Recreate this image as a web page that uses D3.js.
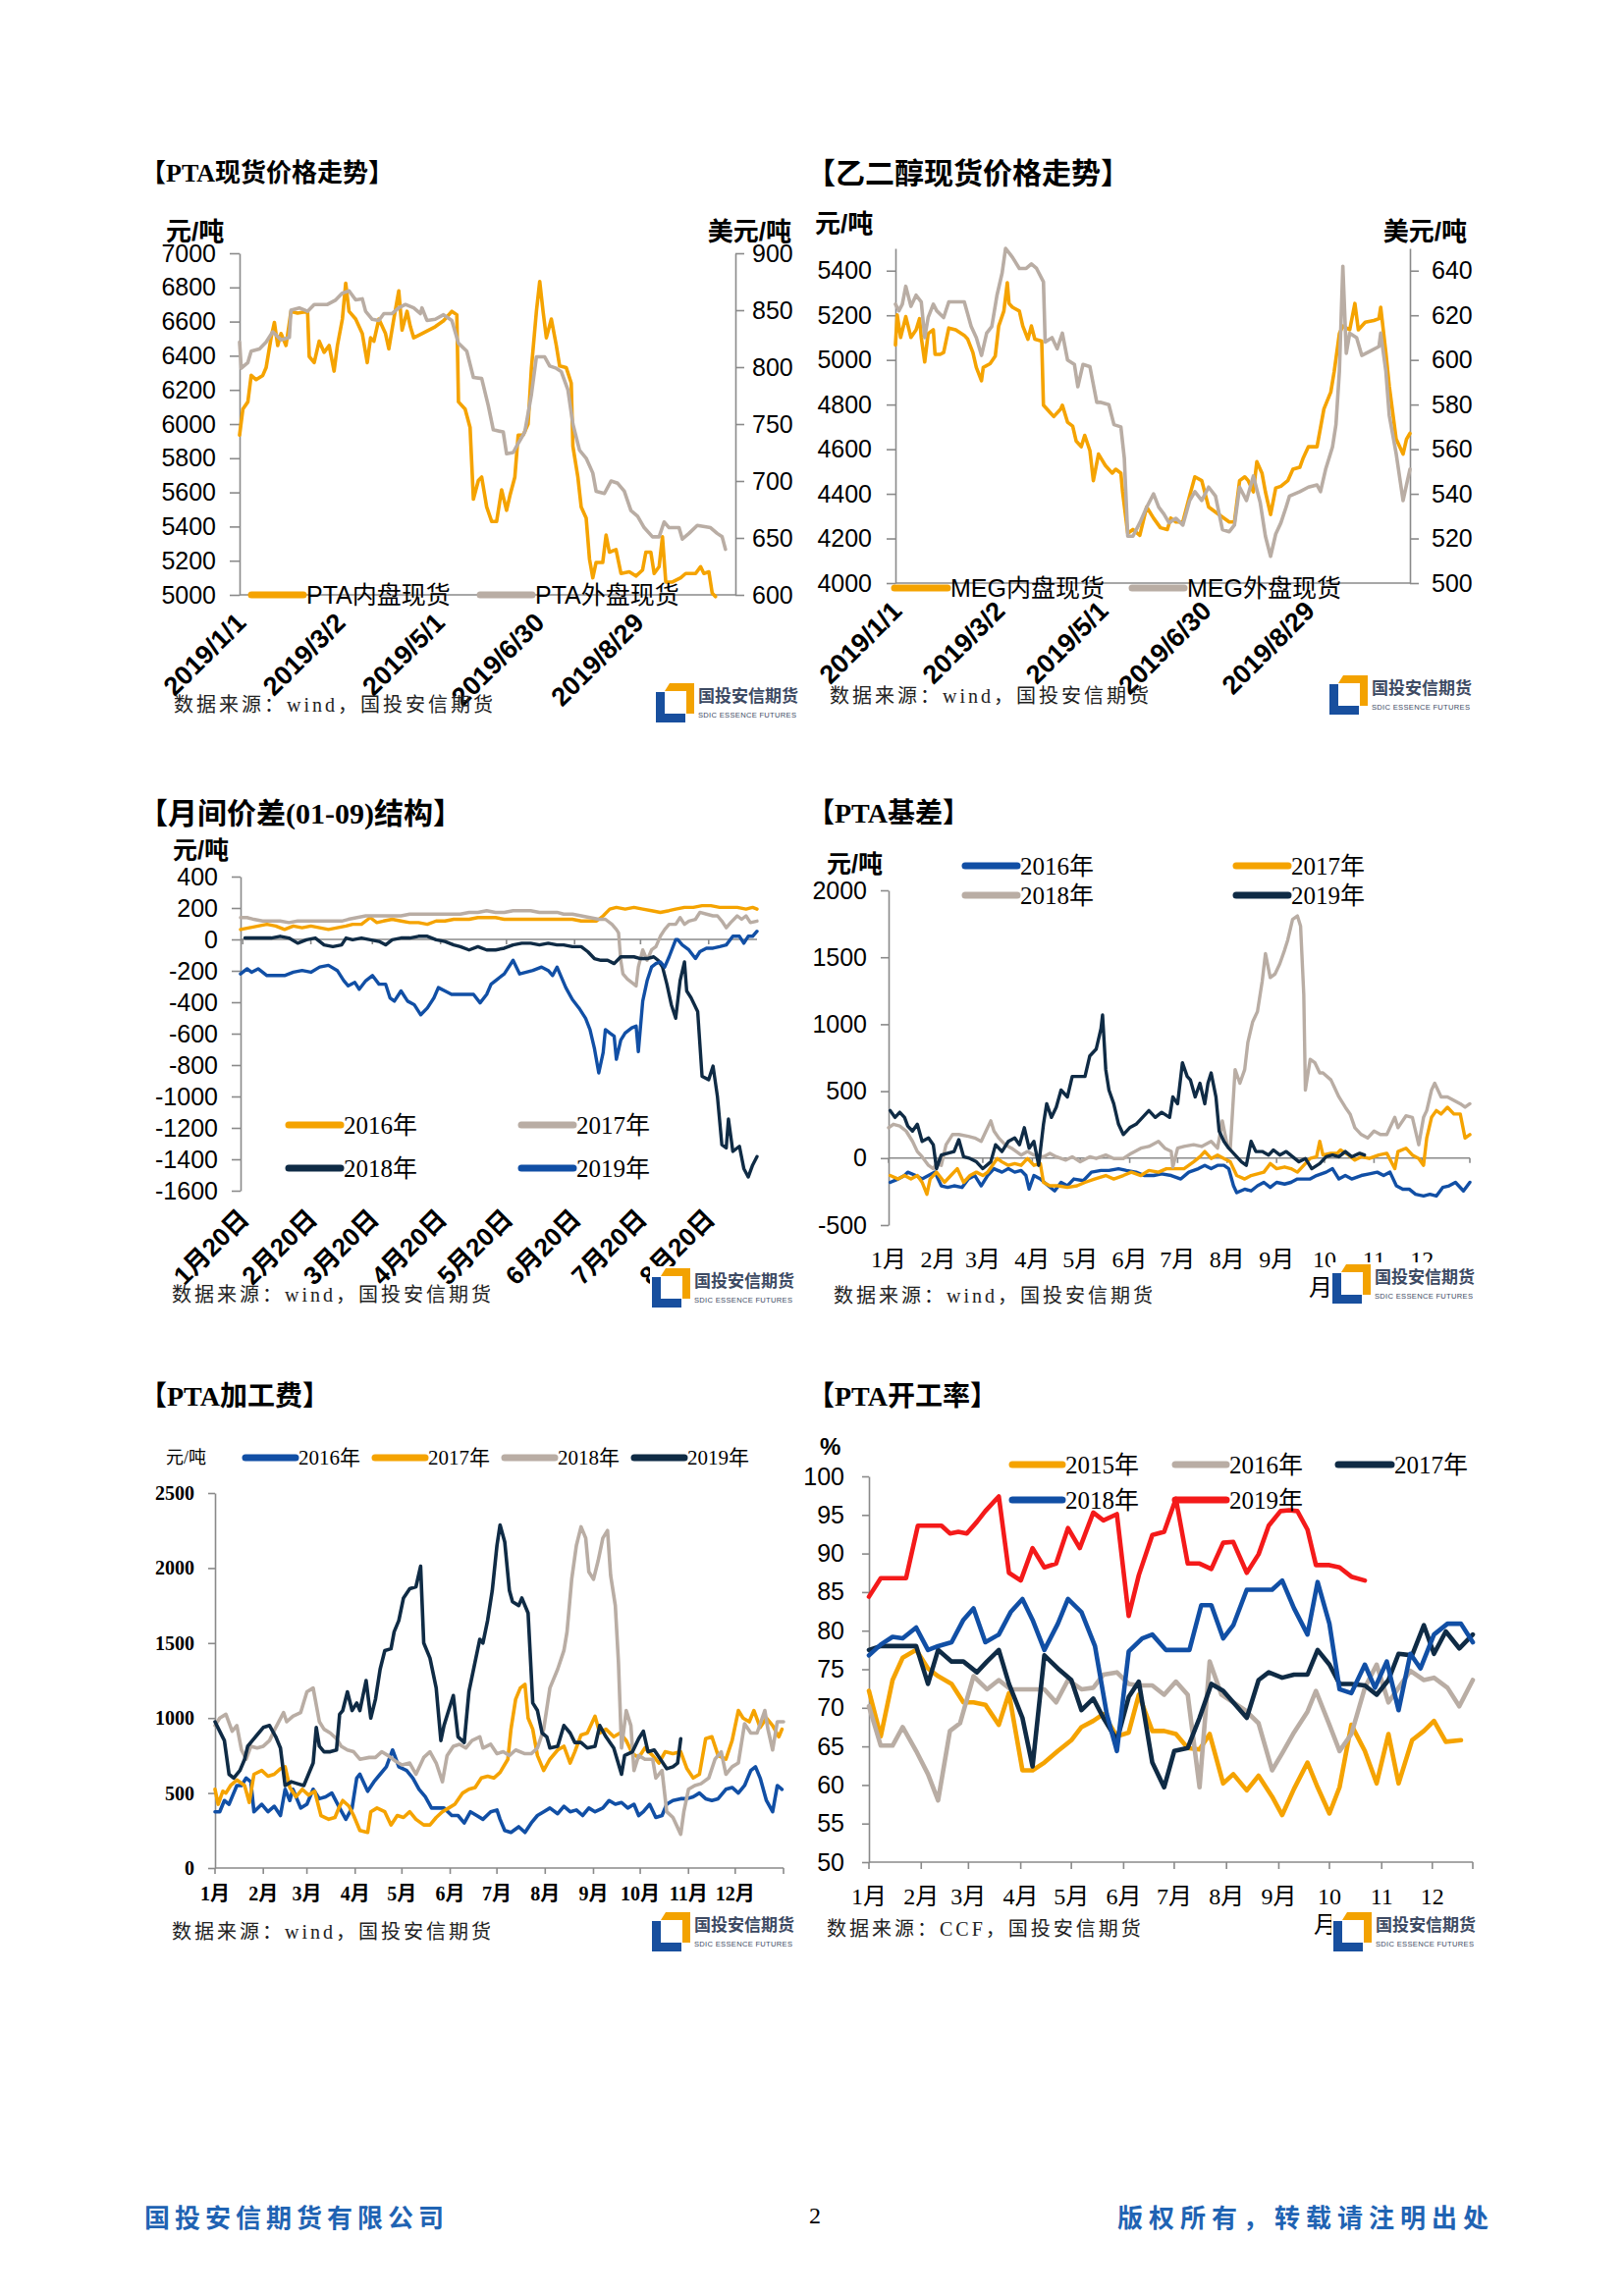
<!DOCTYPE html>
<html>
<head>
<meta charset="utf-8">
<script src="https://cdn.jsdelivr.net/npm/d3@7"></script>
<style>
  body { margin: 0; background: #fff; }
</style>
</head>
<body>
<script>
// colours and fonts
const ORANGE = "#f5a300", GRAY = "#b9ada4", NAVY = "#0f2b45", BLUE = "#114fa5", RED = "#f41a1a";
const AXIS = "#8a8a8a";
const SANS = "'Liberation Sans', 'Noto Sans CJK SC', sans-serif";
const SERIF = "'Liberation Serif', 'Noto Sans CJK SC', serif";
const CJK = "'Noto Sans CJK SC', sans-serif";

// ---------------- data ----------------
// day = days since 2019-01-01 (x), value (y)

// PTA spot: domestic (yuan/t, left axis) and import (USD/t, right axis)
const ptaDateLabels = ["2019/1/1", "2019/3/2", "2019/5/1", "2019/6/30", "2019/8/29"];
const ptaDomestic = [[0,5935],[2,6088],[5,6130],[7,6285],[10,6260],[14,6285],[16,6330],[19,6505],[21,6595],[23,6460],[25,6530],[28,6460],[31,6660],[35,6650],[41,6660],[42,6395],[45,6360],[48,6485],[51,6420],[54,6460],[57,6310],[59,6460],[62,6615],[64,6825],[66,6660],[70,6615],[74,6530],[77,6360],[79,6505],[81,6485],[84,6615],[88,6530],[90,6440],[93,6615],[96,6780],[98,6550],[101,6660],[103,6570],[105,6505],[110,6530],[118,6570],[123,6605],[128,6660],[131,6640],[132,6130],[136,6088],[139,5980],[141,5560],[144,5670],[146,5690],[149,5515],[152,5430],[155,5430],[158,5615],[161,5495],[163,5580],[166,5690],[168,5935],[171,5935],[174,6000],[176,6330],[179,6660],[181,6835],[183,6660],[185,6505],[188,6615],[191,6460],[193,6340],[197,6330],[200,6240],[201,5870],[204,5690],[206,5515],[209,5450],[211,5210],[213,5100],[215,5190],[219,5190],[221,5350],[223,5250],[227,5265],[230,5125],[235,5135],[239,5110],[243,5145],[245,5250],[248,5250],[250,5125],[253,5165],[255,5340],[257,5075],[261,5075],[266,5100],[269,5125],[275,5125],[278,5165],[280,5125],[283,5135],[285,5010],[287,4990]];
const ptaImport = [[0,822],[1,799],[5,804],[7,814],[12,816],[16,822],[20,831],[25,824],[30,826],[31,850],[36,852],[41,849],[45,855],[53,855],[58,859],[62,865],[66,867],[70,859],[74,860],[76,849],[80,842],[84,841],[87,847],[92,847],[96,852],[100,855],[105,852],[109,847],[110,852],[113,841],[118,842],[123,846],[128,841],[132,821],[137,814],[141,791],[146,790],[150,766],[153,745],[159,743],[161,724],[165,725],[168,733],[172,743],[176,776],[179,809],[184,809],[187,801],[191,799],[194,796],[198,780],[201,750],[205,727],[209,720],[213,707],[215,691],[220,689],[224,700],[228,698],[232,691],[236,674],[240,669],[244,659],[249,651],[253,651],[256,664],[259,659],[265,659],[267,649],[271,654],[276,661],[284,659],[288,654],[291,651],[293,640]];

// MEG spot: domestic (yuan/t) and import (USD/t)
const megDomestic = [[0,5067],[1,5202],[3,5101],[6,5194],[9,5101],[12,5135],[14,5185],[15,5101],[17,4991],[19,5118],[22,5135],[23,5025],[26,5025],[28,5033],[31,5143],[35,5135],[40,5110],[42,5093],[45,5033],[47,4966],[50,4907],[51,4966],[55,4983],[58,5017],[60,5152],[63,5219],[65,5346],[66,5253],[68,5236],[72,5219],[74,5152],[77,5093],[79,5152],[81,5093],[85,5084],[86,4797],[90,4763],[92,4746],[96,4780],[97,4797],[100,4721],[103,4703],[105,4637],[108,4611],[110,4662],[113,4594],[115,4459],[118,4578],[122,4527],[126,4493],[128,4510],[131,4493],[132,4409],[135,4223],[138,4240],[142,4214],[146,4341],[150,4291],[154,4248],[158,4240],[160,4291],[163,4274],[167,4274],[171,4392],[174,4476],[178,4459],[182,4341],[188,4307],[194,4274],[197,4274],[200,4459],[203,4476],[205,4459],[208,4409],[210,4544],[213,4493],[215,4409],[218,4307],[221,4426],[224,4434],[228,4459],[231,4510],[235,4519],[237,4561],[240,4611],[245,4611],[249,4780],[253,4856],[255,4949],[258,5118],[260,5152],[264,5135],[267,5253],[269,5135],[273,5169],[278,5177],[281,5185],[282,5236],[285,5033],[287,4882],[291,4645],[295,4578],[297,4645],[299,4671]];
const megImport = [[0,625],[2,622],[4,625],[6,633],[9,624],[12,629],[15,626],[17,610],[19,619],[22,625],[24,622],[28,619],[31,626],[40,626],[44,615],[47,610],[50,602],[53,612],[56,615],[59,629],[62,639],[64,650],[68,646],[72,641],[76,641],[79,643],[82,641],[86,635],[87,608],[91,610],[94,605],[97,612],[100,600],[104,598],[106,588],[109,598],[113,597],[117,581],[119,581],[124,580],[127,571],[131,570],[133,556],[135,521],[138,521],[142,527],[146,534],[150,540],[153,534],[156,531],[159,527],[163,529],[167,526],[171,537],[174,541],[178,537],[182,543],[186,539],[190,524],[194,523],[197,526],[200,543],[204,537],[208,548],[212,536],[215,521],[218,512],[221,522],[224,527],[227,534],[229,539],[235,541],[240,543],[245,544],[247,541],[250,551],[254,561],[256,571],[258,595],[260,642],[262,603],[264,612],[268,610],[271,602],[276,604],[281,606],[282,612],[285,595],[287,575],[291,558],[295,537],[297,544],[299,551]];

// 01-09 spread by year (x = day of 2019 calendar)
const spreadLabels = ["1月20日", "2月20日", "3月20日", "4月20日", "5月20日", "6月20日", "7月20日", "8月20日"];
const spread2016 = [[18,63],[22,74],[26,85],[30,96],[34,85],[38,63],[42,85],[46,74],[50,85],[54,74],[58,63],[62,74],[66,85],[69,96],[73,96],[77,139],[80,107],[83,117],[87,128],[91,117],[95,107],[99,107],[103,96],[107,117],[111,117],[115,128],[118,128],[122,128],[126,139],[130,139],[134,139],[138,128],[142,128],[146,128],[150,128],[154,128],[158,128],[162,128],[165,128],[169,128],[173,117],[177,117],[180,117],[183,150],[186,193],[189,204],[193,193],[197,204],[201,193],[205,183],[209,172],[213,183],[216,193],[220,204],[224,204],[228,215],[232,215],[236,204],[240,204],[244,204],[248,193],[251,204],[253,193]];
const spread2017 = [[18,139],[21,139],[24,128],[28,117],[32,117],[36,117],[40,107],[44,117],[48,117],[52,117],[56,117],[60,117],[64,117],[67,128],[71,139],[75,150],[79,150],[83,150],[87,150],[91,150],[95,161],[99,161],[103,161],[107,161],[111,161],[115,161],[118,161],[122,172],[126,172],[130,183],[134,172],[138,172],[142,183],[146,183],[150,183],[154,172],[158,172],[162,172],[165,161],[169,161],[173,150],[177,139],[181,128],[184,128],[187,96],[189,63],[190,41],[191,-133],[192,-220],[194,-252],[196,-274],[198,-296],[199,-176],[201,-67],[203,-133],[205,-67],[207,-46],[209,20],[211,63],[213,96],[216,96],[218,139],[220,96],[222,117],[225,128],[227,172],[230,161],[233,150],[235,150],[237,117],[239,74],[241,107],[244,150],[246,128],[248,150],[250,107],[253,117]];
const spread2018 = [[20,9],[24,9],[28,9],[32,9],[36,20],[40,9],[44,-24],[48,-2],[52,9],[56,-35],[60,-46],[64,-35],[66,9],[69,-2],[73,9],[77,-2],[81,-13],[84,-35],[87,-2],[91,9],[95,9],[99,20],[103,20],[107,-2],[111,-13],[115,-35],[118,-46],[122,-67],[126,-46],[130,-67],[134,-67],[138,-56],[142,-35],[146,-24],[150,-24],[154,-35],[158,-24],[162,-35],[165,-35],[169,-46],[173,-46],[176,-78],[179,-122],[182,-133],[185,-133],[188,-154],[191,-111],[194,-111],[197,-111],[200,-122],[203,-122],[206,-111],[208,-133],[210,-176],[212,-285],[214,-415],[216,-502],[218,-263],[220,-143],[221,-328],[223,-372],[226,-459],[228,-872],[231,-893],[233,-807],[235,-1002],[237,-1307],[239,-1328],[240,-1143],[242,-1350],[245,-1317],[247,-1459],[249,-1513],[251,-1437],[253,-1383]];
const spread2019 = [[18,-220],[21,-187],[23,-209],[26,-187],[30,-230],[34,-230],[38,-230],[42,-209],[46,-198],[50,-209],[54,-176],[58,-165],[62,-198],[65,-263],[67,-296],[70,-274],[72,-317],[75,-263],[78,-230],[81,-285],[84,-285],[86,-372],[88,-393],[91,-328],[94,-393],[97,-415],[100,-480],[103,-437],[106,-372],[108,-307],[111,-328],[114,-350],[116,-350],[120,-350],[124,-350],[127,-404],[130,-350],[132,-285],[135,-252],[138,-220],[142,-133],[145,-220],[148,-209],[151,-198],[155,-176],[158,-198],[160,-230],[162,-176],[164,-241],[166,-307],[169,-383],[172,-437],[175,-502],[177,-574],[179,-693],[181,-850],[183,-720],[184,-574],[186,-596],[188,-617],[189,-763],[191,-641],[193,-596],[196,-563],[198,-552],[199,-715],[201,-393],[203,-263],[205,-176],[207,-154],[209,-143],[211,-176],[213,-111],[216,-2],[217,-2],[219,-35],[222,-67],[225,-122],[227,-78],[230,-56],[233,-56],[236,-46],[239,-35],[242,20],[245,20],[247,-24],[249,20],[251,20],[253,52]];

// month labels shared by the seasonal charts
const monthLabels = ["1月", "2月", "3月", "4月", "5月", "6月", "7月", "8月", "9月", "10月", "11月", "12月"];

// PTA basis by year
const basis2016 = [[1,-181],[6,-156],[10,-130],[12,-105],[17,-130],[21,-156],[25,-130],[29,-105],[33,-207],[37,-219],[41,-207],[46,-219],[50,-156],[54,-130],[58,-207],[62,-130],[66,-79],[71,-105],[75,-79],[79,-105],[83,-92],[86,-130],[88,-232],[91,-130],[95,-156],[100,-207],[104,-245],[108,-181],[112,-207],[116,-156],[122,-168],[127,-105],[133,-92],[138,-92],[144,-79],[149,-92],[155,-105],[160,-130],[166,-130],[171,-118],[177,-130],[183,-156],[188,-105],[194,-79],[198,-54],[202,-79],[206,-54],[210,-54],[213,-79],[216,-207],[218,-258],[223,-232],[227,-245],[231,-207],[235,-181],[239,-219],[243,-181],[248,-194],[252,-181],[256,-156],[260,-156],[264,-156],[268,-130],[274,-105],[278,-79],[282,-156],[286,-130],[290,-156],[296,-130],[301,-118],[306,-105],[310,-130],[314,-105],[318,-207],[322,-232],[326,-232],[330,-270],[335,-283],[339,-270],[343,-283],[347,-219],[351,-207],[355,-181],[360,-245],[364,-181]];
const basis2017 = [[1,-130],[6,-156],[10,-130],[14,-156],[18,-130],[21,-181],[24,-270],[26,-156],[30,-105],[35,-181],[39,-130],[43,-79],[47,-181],[51,-130],[55,-105],[59,-130],[62,-105],[65,-54],[68,-3],[71,-28],[75,-54],[79,-41],[83,-54],[87,-3],[91,-54],[95,-41],[97,-181],[101,-207],[106,-207],[112,-219],[118,-207],[123,-181],[129,-156],[136,-130],[141,-156],[147,-130],[152,-105],[158,-130],[163,-92],[169,-105],[174,-79],[180,-79],[185,-79],[191,-28],[195,10],[198,49],[202,-3],[206,23],[210,-3],[214,-28],[218,-130],[223,-156],[227,-130],[231,-118],[235,-105],[239,-41],[243,-79],[248,-66],[252,-79],[256,-105],[260,-54],[264,-3],[268,10],[270,125],[272,23],[277,36],[281,36],[283,61],[288,23],[292,-15],[296,10],[301,-3],[307,23],[312,36],[317,-79],[319,49],[324,74],[328,23],[332,-3],[335,-54],[337,150],[340,304],[343,355],[346,329],[350,380],[354,329],[358,329],[361,150],[364,176]];
const basis2018 = [[0,227],[3,253],[7,240],[11,202],[15,125],[18,49],[21,10],[25,-54],[28,-79],[30,-41],[33,-54],[36,100],[40,176],[44,176],[50,163],[54,150],[58,125],[61,202],[64,278],[66,202],[69,150],[73,100],[77,74],[83,23],[87,49],[91,23],[97,10],[101,36],[105,10],[111,-15],[115,10],[120,-28],[126,10],[130,-3],[136,23],[141,-3],[147,-3],[152,36],[158,74],[163,87],[169,125],[173,74],[177,49],[178,-66],[181,74],[185,87],[191,100],[196,87],[202,125],[206,74],[209,278],[212,100],[214,74],[217,661],[220,559],[223,661],[225,865],[228,1018],[231,1094],[234,1324],[236,1528],[239,1349],[242,1375],[245,1452],[248,1554],[250,1630],[253,1783],[256,1809],[258,1732],[260,1222],[261,508],[264,738],[267,712],[270,636],[272,636],[277,584],[279,534],[282,457],[286,380],[289,329],[292,227],[296,176],[300,150],[304,202],[308,176],[312,176],[317,304],[319,227],[324,316],[328,304],[332,100],[335,304],[337,355],[340,508],[342,559],[346,457],[350,457],[354,431],[358,406],[361,380],[364,406]];
const basis2019 = [[1,355],[4,304],[7,342],[10,304],[12,240],[15,202],[18,253],[21,125],[25,150],[28,100],[30,-79],[33,23],[37,36],[41,49],[44,138],[47,10],[51,-3],[55,-28],[59,-79],[64,-28],[67,100],[71,49],[75,125],[79,150],[82,100],[85,227],[88,74],[91,125],[94,-54],[97,253],[99,406],[102,304],[105,380],[108,508],[112,457],[115,610],[119,610],[123,610],[126,763],[130,814],[133,967],[134,1069],[136,661],[138,508],[141,406],[144,253],[147,176],[151,227],[155,253],[159,304],[163,355],[167,304],[171,342],[176,304],[178,457],[181,406],[184,712],[187,610],[189,584],[192,457],[195,559],[198,406],[200,559],[202,636],[205,457],[207,202],[210,125],[213,74],[217,23],[221,-28],[224,-54],[227,125],[230,49],[234,49],[238,23],[241,61],[245,23],[249,49],[253,10],[257,-28],[261,-3],[265,-79],[270,-41],[274,10],[278,23],[282,10],[286,49],[290,10],[295,36],[298,23]];

// PTA processing margin by year
const fee2016 = [[0,375],[3,375],[6,450],[9,425],[12,500],[14,550],[17,550],[20,600],[23,575],[25,375],[30,425],[34,375],[38,412],[42,350],[45,525],[48,450],[50,525],[55,400],[59,425],[63,525],[67,462],[71,475],[75,500],[80,400],[84,325],[88,400],[91,600],[93,625],[98,512],[102,575],[106,625],[110,675],[114,787],[118,675],[123,650],[127,600],[131,525],[135,475],[139,400],[143,400],[147,400],[152,350],[156,350],[160,300],[164,375],[168,350],[172,325],[177,375],[181,387],[183,325],[186,250],[190,237],[195,275],[199,237],[203,300],[207,350],[211,375],[215,400],[220,362],[224,412],[228,375],[232,387],[236,350],[240,400],[244,375],[249,400],[253,450],[257,425],[261,437],[265,400],[269,425],[272,350],[275,375],[279,425],[283,337],[287,350],[290,425],[294,450],[299,462],[303,462],[307,475],[311,500],[315,462],[319,450],[323,462],[328,525],[332,537],[336,500],[340,550],[344,650],[347,675],[350,600],[354,450],[358,375],[361,550],[364,525]];
const fee2017 = [[0,525],[2,425],[5,512],[7,500],[10,550],[14,587],[19,550],[22,437],[25,625],[30,650],[34,612],[38,625],[42,662],[45,675],[48,537],[52,475],[56,525],[60,487],[64,512],[68,350],[73,325],[77,337],[80,412],[82,450],[86,412],[89,350],[93,250],[98,237],[100,375],[104,400],[109,375],[113,287],[117,350],[121,337],[125,375],[129,325],[134,287],[138,287],[142,337],[146,375],[150,400],[154,425],[159,500],[163,525],[167,537],[171,600],[175,612],[179,600],[183,637],[188,725],[190,925],[193,1125],[196,1200],[199,1225],[201,1000],[204,925],[207,750],[211,650],[215,725],[220,787],[224,812],[228,700],[231,775],[235,887],[239,900],[244,1012],[247,900],[251,925],[256,875],[260,900],[264,850],[268,762],[272,737],[276,800],[281,750],[285,700],[289,775],[294,762],[299,775],[303,662],[307,600],[311,625],[315,862],[319,875],[323,750],[328,725],[332,850],[336,1050],[339,1000],[343,975],[346,1050],[350,937],[354,1000],[358,950],[362,875],[364,925]];
const fee2018 = [[0,950],[3,1000],[7,1025],[11,912],[14,950],[17,787],[20,725],[23,812],[27,800],[31,812],[35,850],[39,937],[44,1037],[46,975],[50,1012],[55,1037],[59,1175],[63,1200],[67,975],[70,925],[74,900],[78,862],[81,812],[85,787],[89,775],[93,725],[99,737],[103,737],[107,775],[111,750],[116,712],[120,687],[125,700],[129,625],[134,737],[138,775],[142,700],[146,575],[149,750],[153,812],[157,825],[161,800],[165,850],[170,875],[172,800],[177,825],[181,762],[185,775],[189,750],[193,787],[199,762],[203,762],[207,800],[211,925],[215,1200],[220,1325],[224,1450],[226,1575],[229,1925],[232,2150],[235,2275],[238,2200],[240,1975],[243,1925],[246,2050],[249,2200],[252,2250],[254,1950],[257,1750],[259,1375],[261,800],[264,1050],[267,950],[269,650],[272,750],[276,725],[281,725],[283,600],[287,650],[290,375],[294,337],[299,225],[301,375],[304,525],[308,550],[312,562],[317,600],[321,725],[325,775],[328,625],[332,675],[336,700],[340,962],[344,900],[348,900],[353,1050],[355,925],[358,787],[361,975],[365,975]];
const fee2019 = [[0,975],[3,912],[6,850],[9,625],[12,600],[16,650],[19,725],[21,812],[24,850],[28,900],[31,937],[35,950],[39,875],[42,800],[45,550],[49,575],[53,562],[57,550],[60,625],[63,700],[65,937],[67,812],[70,775],[74,775],[78,787],[80,1025],[82,1050],[85,1175],[88,1050],[91,1100],[93,1050],[97,1250],[100,1000],[103,1125],[106,1325],[109,1450],[113,1462],[115,1575],[118,1650],[121,1800],[125,1862],[129,1875],[132,2012],[134,1500],[138,1400],[142,1200],[145,850],[147,950],[150,1050],[153,1150],[156,875],[160,837],[163,1175],[165,1275],[170,1525],[172,1500],[175,1650],[178,1850],[181,2150],[183,2287],[186,2175],[189,1850],[191,1775],[195,1750],[197,1800],[201,1700],[204,1100],[207,1050],[210,900],[213,875],[215,800],[220,812],[224,950],[228,900],[231,837],[235,837],[239,800],[244,812],[247,950],[251,875],[256,800],[261,625],[263,750],[268,775],[272,862],[275,912],[278,775],[282,787],[286,725],[290,662],[294,675],[297,700],[299,862]];

// PTA operating rate (%), weekly
const rate2015 = [[0,72.2],[7,66.3],[14,73.6],[20,76.5],[28,77.5],[35,75.1],[41,74.1],[49,73.1],[56,70.7],[62,70.7],[69,70.4],[77,67.8],[83,71.9],[91,61.9],[97,61.9],[104,62.9],[112,64.4],[120,65.8],[126,67.5],[133,68.3],[139,69.2],[147,66.3],[154,66.8],[160,71.7],[168,67.0],[175,67.0],[182,66.6],[189,64.8],[196,64.6],[202,66.6],[210,60.2],[216,61.4],[224,59.3],[231,61.2],[239,58.5],[245,56.1],[252,59.5],[260,62.9],[266,59.7],[273,56.3],[279,59.7],[286,67.8],[294,64.4],[301,60.2],[308,66.6],[314,60.2],[322,65.8],[329,67.0],[335,68.3],[342,65.6],[351,65.8]];
const rate2016 = [[0,70.2],[7,65.1],[14,65.1],[20,67.5],[28,64.4],[35,61.4],[41,58.0],[48,67.0],[54,68.0],[62,74.1],[70,72.4],[77,73.6],[84,72.4],[91,72.4],[97,72.4],[104,72.4],[111,70.7],[118,73.6],[126,72.4],[133,72.6],[139,74.3],[147,74.6],[154,73.1],[160,72.9],[168,72.9],[175,71.7],[182,73.4],[189,71.7],[196,59.7],[202,76.0],[209,71.7],[216,70.7],[223,69.7],[231,68.0],[239,61.9],[245,64.1],[252,66.8],[260,69.5],[265,72.2],[273,67.8],[279,64.4],[286,66.6],[294,72.6],[301,75.6],[308,70.7],[314,72.6],[321,74.8],[329,73.6],[335,73.9],[343,72.6],[350,70.2],[358,73.6]];
const rate2017 = [[0,77.5],[7,78.0],[14,78.0],[22,78.0],[28,78.0],[35,73.1],[41,77.5],[49,76.0],[56,76.0],[64,74.6],[70,76.0],[77,77.5],[83,73.1],[91,68.7],[97,62.4],[104,76.8],[112,75.1],[120,73.6],[126,69.7],[133,71.2],[139,68.7],[147,65.8],[154,71.4],[160,73.4],[168,62.9],[175,59.7],[181,64.4],[189,64.8],[196,68.7],[203,73.1],[210,72.2],[216,70.7],[224,68.7],[231,73.6],[237,74.6],[245,73.9],[252,74.3],[260,74.3],[266,77.5],[273,75.6],[279,73.1],[286,73.1],[294,72.9],[301,71.7],[308,73.6],[314,77.0],[322,76.8],[329,80.7],[335,77.0],[342,79.9],[350,77.7],[358,79.5]];
const rate2018 = [[0,76.8],[7,78.2],[14,79.2],[20,79.0],[28,80.4],[35,77.5],[41,78.0],[49,78.5],[56,81.4],[62,82.9],[69,78.5],[77,79.5],[84,82.4],[91,84.1],[97,81.4],[104,77.5],[112,80.9],[118,84.1],[126,82.4],[134,78.0],[141,69.2],[147,64.4],[154,77.3],[162,79.0],[168,79.5],[176,77.5],[182,77.5],[190,77.5],[197,83.3],[203,83.3],[210,79.0],[216,80.7],[224,85.3],[231,85.3],[239,85.3],[245,86.5],[252,82.9],[260,79.5],[266,86.3],[273,80.9],[279,72.4],[286,71.9],[294,75.6],[300,72.6],[307,76.0],[314,69.7],[321,77.0],[327,75.1],[335,79.5],[343,80.9],[351,80.9],[358,78.5]];
const rate2019 = [[0,84.4],[7,86.8],[14,86.8],[22,86.8],[29,93.6],[36,93.6],[43,93.6],[48,92.6],[53,92.8],[58,92.6],[64,94.1],[69,95.5],[77,97.4],[83,87.5],[90,86.5],[97,90.7],[104,88.2],[111,88.7],[118,93.3],[125,90.7],[133,95.3],[139,94.3],[147,95.1],[154,81.9],[160,87.2],[168,92.4],[175,92.8],[182,97.1],[189,88.7],[196,88.7],[203,88.0],[210,91.4],[216,91.5],[224,87.5],[231,89.9],[237,93.6],[244,95.5],[249,95.6],[254,95.5],[260,93.1],[265,88.5],[273,88.5],[279,88.2],[286,87.0],[294,86.5]];

// ---------------- drawing ----------------
const svg = d3.select("body").append("svg")
    .attr("width", 1654)
    .attr("height", 2339)
    .style("display", "block");
svg.append("rect").attr("width", 1654).attr("height", 2339).attr("fill", "#fff");

const day = d => new Date(2019, 0, 1 + d);
const plain = d => String(d);   // no thousands separator, ascii minus

function addText(x, y, str, size, family, opts) {
    opts = opts || {};
    return svg.append("text")
        .attr("x", x)
        .attr("y", y)
        .attr("text-anchor", opts.anchor || "start")
        .attr("dominant-baseline", opts.baseline || "central")
        .attr("fill", opts.fill || "#000")
        .style("font-size", size + "px")
        .style("font-family", family)
        .style("font-weight", opts.weight || "normal")
        .style("letter-spacing", opts.spacing || "0px")
        .text(str);
}

function styleAxis(g, size, family, weight) {
    g.attr("font-family", null).attr("font-size", null);
    g.select(".domain").attr("stroke", AXIS).attr("stroke-width", 1.6);
    g.selectAll(".tick line").attr("stroke", AXIS).attr("stroke-width", 1.6);
    g.selectAll(".tick text").attr("fill", "#000")
        .style("font-size", size + "px").style("font-family", family)
        .style("font-weight", weight || "normal");
}

function hLine(x1, x2, y) {
    svg.append("line").attr("x1", x1).attr("x2", x2).attr("y1", y).attr("y2", y)
        .attr("stroke", AXIS).attr("stroke-width", 1.6);
}

function drawSeries(data, x, y, color, width) {
    const line = d3.line().x(d => x(day(d[0]))).y(d => y(d[1]));
    svg.append("path")
        .datum(data)
        .attr("d", line)
        .attr("fill", "none")
        .attr("stroke", color)
        .attr("stroke-width", width)
        .attr("stroke-linejoin", "round")
        .attr("stroke-linecap", "round");
}

function legendItem(x1, x2, y, color, label, size, family) {
    svg.append("line").attr("x1", x1).attr("x2", x2).attr("y1", y).attr("y2", y)
        .attr("stroke", color).attr("stroke-width", 7).attr("stroke-linecap", "round");
    addText(x2 + 3, y, label, size, family);
}

function source(x, y, who) {
    addText(x, y, "数据来源：" + who + "，国投安信期货", 20, SERIF, { fill: "#222", spacing: "3px" });
}

function logo(x, y) {
    const g = svg.append("g").attr("transform", `translate(${x},${y})`);
    g.append("rect").attr("x", -2).attr("y", -2).attr("width", 148).attr("height", 44).attr("fill", "#fff");
    // blue frame (left + bottom) and orange corner (top + right)
    g.append("path").attr("d", "M0,9 H9 V31 H30 V40 H0 Z").attr("fill", "#184f9e");
    g.append("path").attr("d", "M14,0 H39 V31 H31 V8 H9 Z").attr("fill", "#f3a200");
    g.append("text").attr("x", 43).attr("y", 19).text("国投安信期货")
        .attr("fill", "#3d4a63").style("font-family", CJK).style("font-weight", "bold").style("font-size", "17px");
    g.append("text").attr("x", 43).attr("y", 35).text("SDIC ESSENCE FUTURES")
        .attr("fill", "#3d4a63").style("font-family", SANS).style("font-size", "7.6px")
        .attr("textLength", 100);
}

// rotated date labels under charts 1-3
function slantLabels(labels, x, parse, yBase, size) {
    labels.forEach(t => {
        const px = x(parse(t));
        svg.append("text")
            .attr("transform", `translate(${px + 8},${yBase}) rotate(-45)`)
            .attr("text-anchor", "end")
            .style("font-size", size + "px")
            .style("font-family", SANS)
            .style("font-weight", "bold")
            .text(t);
    });
}

// month labels under the seasonal charts, "10" "11" "12" may wrap onto two lines
function monthAxis(x, yText, size, wrap, weight) {
    const months = d3.range(12).map(m => new Date(2019, m, 1));
    months.forEach((m, i) => {
        const px = x(m);
        const lab = monthLabels[i];
        if (wrap && lab.length > 2) {
            addText(px, yText, lab.slice(0, 2), size, SERIF, { anchor: "middle", weight: weight });
            addText(px - 4, yText + 29, "月", size, SERIF, { anchor: "middle", weight: weight });
        } else {
            addText(px, yText, lab, size, SERIF, { anchor: "middle", weight: weight });
        }
    });
}

function monthTicks(x, yLine, len, end) {
    const months = d3.range(12).map(m => new Date(2019, m, 1));
    months.push(end);
    months.forEach(m => {
        svg.append("line").attr("x1", x(m)).attr("x2", x(m)).attr("y1", yLine).attr("y2", yLine + len)
            .attr("stroke", AXIS).attr("stroke-width", 1.6);
    });
}

const parseSlash = d3.timeParse("%Y/%m/%d");
const parseCn = t => { const m = t.match(/(\d+)月(\d+)日/); return new Date(2019, +m[1] - 1, +m[2]); };

// ---------- Chart 1: PTA spot prices ----------
(function () {
    const L = 244, R = 749, T = 258, B = 606;
    const x = d3.scaleTime().domain([day(0), day(299)]).range([L, R]);
    const yL = d3.scaleLinear().domain([5000, 7000]).range([B, T]);
    const yR = d3.scaleLinear().domain([600, 900]).range([B, T]);

    addText(143, 176, "【PTA现货价格走势】", 26, SERIF, { weight: "bold" });
    addText(169, 236, "元/吨", 26, SANS, { weight: "bold" });
    addText(806, 236, "美元/吨", 26, SANS, { weight: "bold", anchor: "end" });

    const gl = svg.append("g").attr("transform", `translate(${L},0)`)
        .call(d3.axisLeft(yL).tickValues(d3.range(5000, 7001, 200)).tickFormat(plain)
            .tickSize(10).tickSizeOuter(0).tickPadding(14));
    styleAxis(gl, 25, SANS);
    const gr = svg.append("g").attr("transform", `translate(${R},0)`)
        .call(d3.axisRight(yR).tickValues(d3.range(600, 901, 50)).tickFormat(plain)
            .tickSize(9).tickSizeOuter(0).tickPadding(8));
    styleAxis(gr, 25, SANS);
    hLine(L, R, B);

    drawSeries(ptaDomestic, x, yL, ORANGE, 3.6);
    drawSeries(ptaImport, x, yR, GRAY, 3.6);

    legendItem(256, 309, B, ORANGE, "PTA内盘现货", 25, SANS);
    legendItem(489, 542, B, GRAY, "PTA外盘现货", 25, SANS);
    slantLabels(ptaDateLabels, x, parseSlash, B + 30, 27);
    source(177, 718, "wind");
    logo(668, 696);
})();

// ---------- Chart 2: MEG spot prices ----------
(function () {
    const L = 912, R = 1436, T = 253, B = 594;
    const x = d3.scaleTime().domain([day(0), day(299)]).range([L, R]);
    const yL = d3.scaleLinear().domain([4000, 5500]).range([B, T]);
    const yR = d3.scaleLinear().domain([500, 650]).range([B, T]);

    addText(821, 176, "【乙二醇现货价格走势】", 30, SERIF, { weight: "bold" });
    addText(830, 228, "元/吨", 26, SANS, { weight: "bold" });
    addText(1494, 236, "美元/吨", 26, SANS, { weight: "bold", anchor: "end" });

    const gl = svg.append("g").attr("transform", `translate(${L},0)`)
        .call(d3.axisLeft(yL).tickValues(d3.range(4000, 5401, 200)).tickFormat(plain)
            .tickSize(9).tickSizeOuter(0).tickPadding(15));
    styleAxis(gl, 25, SANS);
    const gr = svg.append("g").attr("transform", `translate(${R},0)`)
        .call(d3.axisRight(yR).tickValues(d3.range(500, 641, 20)).tickFormat(plain)
            .tickSize(9).tickSizeOuter(0).tickPadding(13));
    styleAxis(gr, 25, SANS);
    hLine(L, R, B);

    drawSeries(megDomestic, x, yL, ORANGE, 3.6);
    drawSeries(megImport, x, yR, GRAY, 3.6);

    legendItem(911, 965, B + 5, ORANGE, "MEG内盘现货", 25, SANS);
    legendItem(1153, 1206, B + 5, GRAY, "MEG外盘现货", 25, SANS);
    slantLabels(ptaDateLabels, x, parseSlash, B + 30, 27);
    source(845, 709, "wind");
    logo(1354, 688);
})();

// ---------- Chart 3: 01-09 spread ----------
(function () {
    const L = 245, R = 771, T = 893, B = 1213;
    const x = d3.scaleTime().domain([day(18), day(253)]).range([L, R]);
    const y = d3.scaleLinear().domain([-1600, 400]).range([B, T]);

    addText(141, 828, "【月间价差(01-09)结构】", 30, SERIF, { weight: "bold" });
    addText(176, 866, "元/吨", 25, SANS, { weight: "bold" });

    const gl = svg.append("g").attr("transform", `translate(${L},0)`)
        .call(d3.axisLeft(y).tickValues(d3.range(-1600, 401, 200)).tickFormat(plain)
            .tickSize(9).tickSizeOuter(0).tickPadding(14));
    styleAxis(gl, 25, SANS);
    hLine(L, R, y(0));
    spreadLabels.forEach(t => {
        const px = x(parseCn(t));
        svg.append("line").attr("x1", px).attr("x2", px).attr("y1", y(0)).attr("y2", y(0) + 5)
            .attr("stroke", AXIS).attr("stroke-width", 1.6);
    });

    drawSeries(spread2016, x, y, ORANGE, 3.4);
    drawSeries(spread2017, x, y, GRAY, 3.4);
    drawSeries(spread2018, x, y, NAVY, 3.4);
    drawSeries(spread2019, x, y, BLUE, 3.4);

    legendItem(294, 347, 1146, ORANGE, "2016年", 25, SERIF);
    legendItem(531, 584, 1146, GRAY, "2017年", 25, SERIF);
    legendItem(294, 347, 1190, NAVY, "2018年", 25, SERIF);
    legendItem(531, 584, 1190, BLUE, "2019年", 25, SERIF);

    slantLabels(spreadLabels, x, parseCn, B + 30, 26);
    source(175, 1319, "wind");
    logo(664, 1292);
})();

// ---------- Chart 4: PTA basis ----------
(function () {
    const L = 905, R = 1497, T = 907, B = 1248;
    const x = d3.scaleTime().domain([day(0), day(364)]).range([L, R]);
    const y = d3.scaleLinear().domain([-500, 2000]).range([B, T]);

    addText(822, 828, "【PTA基差】", 28, SERIF, { weight: "bold" });
    addText(842, 880, "元/吨", 25, SANS, { weight: "bold" });

    const gl = svg.append("g").attr("transform", `translate(${L},0)`)
        .call(d3.axisLeft(y).tickValues(d3.range(-500, 2001, 500)).tickFormat(plain)
            .tickSize(8).tickSizeOuter(0).tickPadding(14));
    styleAxis(gl, 25, SANS);
    hLine(L, R, y(0));
    monthTicks(x, y(0), 5, day(364));

    drawSeries(basis2016, x, y, BLUE, 3.4);
    drawSeries(basis2017, x, y, ORANGE, 3.4);
    drawSeries(basis2018, x, y, GRAY, 3.4);
    drawSeries(basis2019, x, y, NAVY, 3.4);

    legendItem(983, 1036, 882, BLUE, "2016年", 25, SERIF);
    legendItem(1259, 1312, 882, ORANGE, "2017年", 25, SERIF);
    legendItem(983, 1036, 912, GRAY, "2018年", 25, SERIF);
    legendItem(1259, 1312, 912, NAVY, "2019年", 25, SERIF);

    monthAxis(x, 1283, 24, true);
    source(849, 1320, "wind");
    logo(1357, 1288);
})();

// ---------- Chart 5: PTA processing margin ----------
(function () {
    const L = 219, R = 798, T = 1521, B = 1903;
    const x = d3.scaleTime().domain([day(0), day(365)]).range([L, R]);
    const y = d3.scaleLinear().domain([0, 2500]).range([B, T]);

    addText(142, 1422, "【PTA加工费】", 28, SERIF, { weight: "bold" });
    addText(169, 1485, "元/吨", 18, SERIF);

    const gl = svg.append("g").attr("transform", `translate(${L},0)`)
        .call(d3.axisLeft(y).tickValues(d3.range(0, 2501, 500)).tickFormat(plain)
            .tickSize(7).tickSizeOuter(0).tickPadding(14));
    styleAxis(gl, 20, SERIF, "bold");
    hLine(L, R, B);
    monthTicks(x, B, 6, day(365));

    drawSeries(fee2016, x, y, BLUE, 3.6);
    drawSeries(fee2017, x, y, ORANGE, 3.6);
    drawSeries(fee2018, x, y, GRAY, 3.6);
    drawSeries(fee2019, x, y, NAVY, 3.6);

    legendItem(250, 301, 1485, BLUE, "2016年", 21, SERIF);
    legendItem(382, 433, 1485, ORANGE, "2017年", 21, SERIF);
    legendItem(514, 565, 1485, GRAY, "2018年", 21, SERIF);
    legendItem(646, 697, 1485, NAVY, "2019年", 21, SERIF);

    monthAxis(x, 1929, 20, false, "bold");
    source(175, 1968, "wind");
    logo(664, 1948);
})();

// ---------- Chart 6: PTA operating rate ----------
(function () {
    const L = 885, R = 1500, T = 1504, B = 1897;
    const x = d3.scaleTime().domain([day(0), day(358)]).range([L, R]);
    const y = d3.scaleLinear().domain([50, 100]).range([B, T]);

    addText(822, 1422, "【PTA开工率】", 28, SERIF, { weight: "bold" });
    addText(835, 1473, "%", 24, SANS, { weight: "bold" });

    const gl = svg.append("g").attr("transform", `translate(${L},0)`)
        .call(d3.axisLeft(y).tickValues(d3.range(50, 101, 5)).tickFormat(plain)
            .tickSize(7).tickSizeOuter(0).tickPadding(18));
    styleAxis(gl, 25, SANS);
    hLine(L, R, B);
    monthTicks(x, B, 7, day(358));

    drawSeries(rate2015, x, y, ORANGE, 4.6);
    drawSeries(rate2016, x, y, GRAY, 4.6);
    drawSeries(rate2017, x, y, NAVY, 4.6);
    drawSeries(rate2018, x, y, BLUE, 4.6);
    drawSeries(rate2019, x, y, RED, 4.6);

    legendItem(1031, 1082, 1492, ORANGE, "2015年", 25, SERIF);
    legendItem(1197, 1249, 1492, GRAY, "2016年", 25, SERIF);
    legendItem(1363, 1417, 1492, NAVY, "2017年", 25, SERIF);
    legendItem(1031, 1082, 1528, BLUE, "2018年", 25, SERIF);
    legendItem(1197, 1249, 1528, RED, "2019年", 25, SERIF);

    monthAxis(x, 1932, 24, true);
    source(842, 1965, "CCF");
    logo(1358, 1948);
})();

// ---------- footer ----------
addText(147, 2257, "国投安信期货有限公司", 26, CJK, { weight: "bold", fill: "#1f63b3", spacing: "5px" });
addText(830, 2257, "2", 24, SERIF, { anchor: "middle" });
addText(1522, 2257, "版权所有，转载请注明出处", 26, CJK, { weight: "bold", fill: "#1f63b3", spacing: "6px", anchor: "end" });
</script>
</body>
</html>
